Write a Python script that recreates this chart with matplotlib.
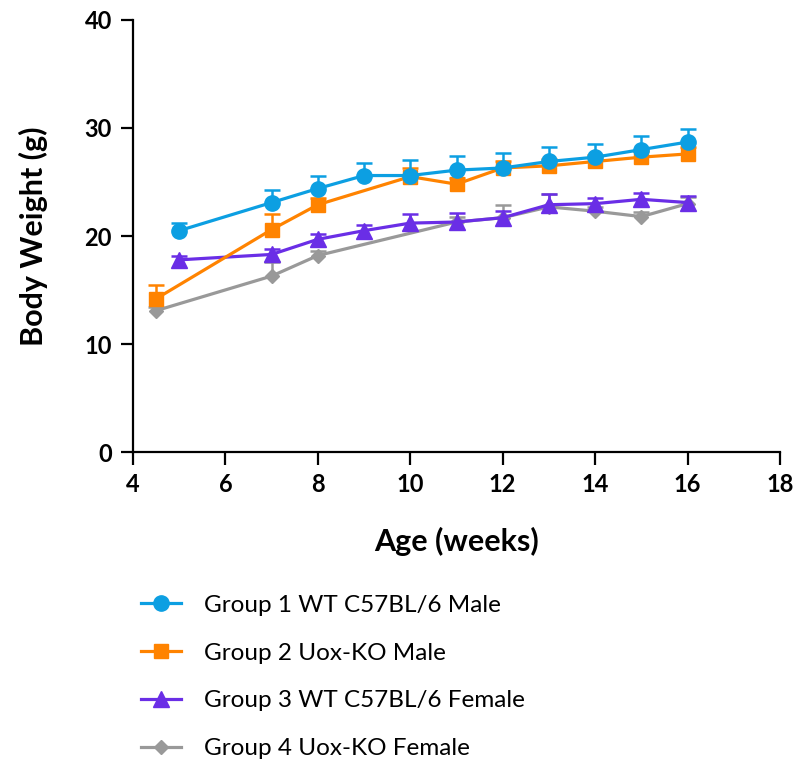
import numpy as np
import matplotlib
matplotlib.use("Agg")
import matplotlib.pyplot as plt

plt.rcParams['font.family'] = ['Lato', 'DejaVu Sans']

# %% Data
labels = ['Group 1 WT C57BL/6 Male', 'Group 2 Uox-KO Male',
          'Group 3 WT C57BL/6 Female', 'Group 4 Uox-KO Female']

g1_age = [5, 7, 8, 9, 10, 11, 12, 13, 14, 15, 16]
g1_wt = [20.5, 23.1, 24.4, 25.6, 25.6, 26.1, 26.3, 26.9, 27.3, 28.0, 28.7]
g1_err = [0.7, 1.2, 1.2, 1.2, 1.4, 1.3, 1.4, 1.3, 1.2, 1.3, 1.2]

g2_age = [4.5, 7, 8, 10, 11, 12, 13, 14, 15, 16]
g2_wt = [14.2, 20.6, 22.9, 25.5, 24.8, 26.3, 26.5, 26.9, 27.3, 27.6]
g2_err = [1.3, 1.4, 0.6, 0.8, 0.6, 0.6, 0.6, 0.6, 0.6, 0.6]

g3_age = [5, 7, 8, 9, 10, 11, 12, 13, 14, 15, 16]
g3_wt = [17.8, 18.3, 19.7, 20.5, 21.2, 21.3, 21.7, 22.9, 23.0, 23.4, 23.1]
g3_err = [0.4, 0.5, 0.5, 0.5, 0.8, 0.8, 0.6, 1.0, 0.5, 0.6, 0.6]

g4_age = [4.5, 7, 8, 11, 12, 13, 14, 15, 16]
g4_wt = [13.1, 16.3, 18.2, 21.3, 21.7, 22.7, 22.3, 21.8, 23.0]
g4_err = [0.3, 1.3, 0.4, 0.5, 1.2, 1.2, 0.4, 0.4, 0.6]

colors = ['#0c9fe2', '#ff8300', '#6a2ee6', '#999999']
markers = ['o', 's', '^', 'D']
msizes = [11, 10.5, 11, 7]

# %% Plot
fig = plt.figure(figsize=(7.96, 7.64), dpi=100)
ax = fig.add_axes([0.167, 0.408, 0.813, 0.566])

series = [(g1_age, g1_wt, g1_err), (g2_age, g2_wt, g2_err),
          (g3_age, g3_wt, g3_err), (g4_age, g4_wt, g4_err)]

handles = [None] * 4
for i in [3, 2, 1, 0]:
    x, y, e = series[i]
    x, y, e = np.array(x), np.array(y), np.array(e)
    z = 3 + 2 * (3 - i)
    # upper error bars only, with a cap on top
    ax.vlines(x, y, y + e, color=colors[i], linewidth=1.8, zorder=z)
    ax.plot(x, y + e, linestyle='none', marker='_', markersize=11,
            markeredgewidth=1.8, color=colors[i], zorder=z)
    line, = ax.plot(x, y, color=colors[i], marker=markers[i],
                    markersize=msizes[i], linewidth=2.3, zorder=z + 1)
    handles[i] = line

ax.set_xlim(4, 18)
ax.set_ylim(0, 40)
ax.set_xticks(np.arange(4, 19, 2))
ax.set_yticks(np.arange(0, 41, 10))
for s in ['top', 'right']:
    ax.spines[s].set_visible(False)
for s in ['left', 'bottom']:
    ax.spines[s].set_linewidth(1.6)
ax.tick_params(width=1.6, length=9, labelsize=17, pad=6)
for lab in ax.get_xticklabels() + ax.get_yticklabels():
    lab.set_fontweight('bold')

ax.set_xlabel('Age (weeks)', fontsize=22, fontweight='bold', labelpad=22)
ax.set_ylabel('Body Weight (g)', fontsize=22, fontweight='bold', labelpad=26)

fig.legend(handles, labels, loc='upper left', bbox_to_anchor=(0.15, 0.25),
           frameon=False, fontsize=17.5, handlelength=1.65,
           labelspacing=1.1, handletextpad=0.95)

fig.savefig('out.png', dpi=100)
